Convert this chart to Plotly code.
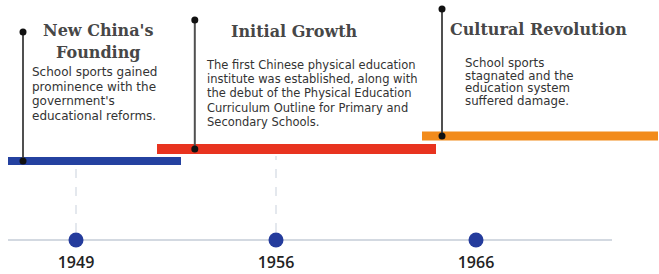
import plotly.graph_objects as go

# ---------------- data ----------------
years = ["1949", "1956", "1966"]
titles = ["New China's<br>Founding", "Initial Growth", "Cultural Revolution"]
descriptions = [
    "School sports gained<br>prominence with the<br>government's<br>educational reforms.",
    "The first Chinese physical education<br>institute was established, along with<br>the debut of the Physical Education<br>Curriculum Outline for Primary and<br>Secondary Schools.",
    "School sports<br>stagnated and the<br>education system<br>suffered damage.",
]

# ---------------- layout / style ----------------
W, H = 659, 274
bar_colors = ["#2441a0", "#e8331f", "#f28b1b"]
bar_widths = [8, 10, 9]
span_start = [-0.34, 0.405, 1.73]
span_end = [0.525, 1.80, 2.91]
level = [79, 91, 104]
stem_x = [-0.265, 0.594, 1.83]
stem_top = [208, 220, 231]
title_x = [0.11, 1.09, 2.31]
title_y = [199, 208.5, 211]
title_glyph = [16, 16, 16]
title_spacing = [22, 20, 20]
desc_x = [-0.23, 0.64, 1.935]
desc_y = [177, 184, 186]
desc_glyph = [12, 11.5, 11.8]
desc_spacing = [14.5, 14.2, 12.5]
dash_top = [72, 84]

xpos = list(range(len(years)))

fig = go.Figure()

# baseline
fig.add_trace(go.Scatter(x=[-0.34, 2.68], y=[0, 0], mode="lines",
                         line=dict(color="#d3d9e1", width=2), hoverinfo="skip"))
# dashed connectors
for i, top in enumerate(dash_top):
    fig.add_trace(go.Scatter(x=[xpos[i], xpos[i]], y=[8, top], mode="lines",
                             line=dict(color="#c9d1dc", width=1, dash="dash"), hoverinfo="skip"))
# phase bars
for i in range(len(years)):
    fig.add_trace(go.Scatter(x=[span_start[i], span_end[i]], y=[level[i], level[i]], mode="lines",
                             line=dict(color=bar_colors[i], width=bar_widths[i]), hoverinfo="skip"))
# stems
for i in range(len(years)):
    fig.add_trace(go.Scatter(x=[stem_x[i], stem_x[i]], y=[level[i], stem_top[i]], mode="lines+markers",
                             line=dict(color="#505050", width=2), cliponaxis=False,
                             marker=dict(color="#111111", size=7), hoverinfo="skip"))
# year dots
fig.add_trace(go.Scatter(x=xpos, y=[0] * len(years), mode="markers", cliponaxis=False,
                         marker=dict(color="#243b9c", size=15), hoverinfo="skip"))

# titles and descriptions
for i in range(len(years)):
    fig.add_annotation(x=title_x[i], y=title_y[i],
                       text=f"<span style='font-size:{title_glyph[i]}px'>{titles[i]}</span>",
                       showarrow=False, xanchor="center", yanchor="middle",
                       font=dict(family="DejaVu Serif", size=title_spacing[i] / 1.3,
                                 color="#474747", weight="bold"))
    fig.add_annotation(x=desc_x[i], y=desc_y[i],
                       text=f"<span style='font-size:{desc_glyph[i]}px'>{descriptions[i]}</span>",
                       showarrow=False, xanchor="left", yanchor="top", align="left",
                       font=dict(family="DejaVu Sans", size=desc_spacing[i] / 1.3, color="#333333"))

fig.update_layout(
    width=W, height=H,
    margin=dict(l=0, r=0, t=0, b=23),
    paper_bgcolor="white", plot_bgcolor="white",
    showlegend=False,
    xaxis=dict(range=[-0.38, 2.915], tickvals=xpos, ticktext=years, automargin=False,
               showgrid=False, zeroline=False, showline=False, ticks="",
               tickfont=dict(family="Open Sans", size=16, color="#222222", weight=600)),
    yaxis=dict(range=[-11, 240], visible=False, showgrid=False, zeroline=False, automargin=False),
)

fig.write_html("out.html", config={"displayModeBar": False},
               post_script="document.body.style.margin='0px';")
